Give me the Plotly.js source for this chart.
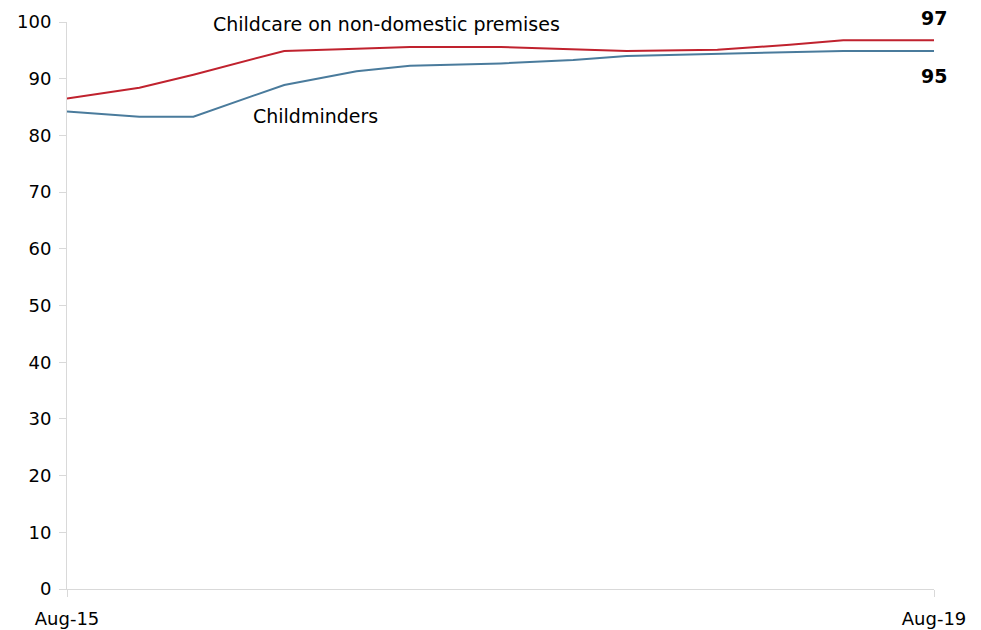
<!DOCTYPE html>
<html>
<head>
<meta charset="utf-8">
<script src="https://cdn.plot.ly/plotly-3.0.1.min.js"></script>
<style>html,body{margin:0;padding:0;background:#fff;}#chart{width:981px;height:630px;}</style>
</head>
<body>
<div id="chart"></div>
<script>
const dates = ['2015-08-01','2015-12-01','2016-03-01','2016-08-01','2016-12-01','2017-03-01','2017-08-01','2017-12-01','2018-03-01','2018-08-01','2018-12-01','2019-03-01','2019-08-01'];
const nonDomestic = [86.5, 88.4, 90.7, 94.9, 95.3, 95.6, 95.6, 95.2, 94.9, 95.1, 96.0, 96.8, 96.8];
const childminders = [84.2, 83.3, 83.3, 88.9, 91.3, 92.3, 92.7, 93.3, 94.0, 94.4, 94.7, 94.9, 94.9];
const xTickVals = ['2015-08-01','2019-08-01'];
const xTickText = ['Aug-15','Aug-19'];
const yTicks = [0,10,20,30,40,50,60,70,80,90,100];
const seriesNames = ['Childcare on non-domestic premises','Childminders'];
const endLabels = ['97','95'];

const font = 'DejaVu Sans, Verdana, sans-serif';
const traces = [
  {x: dates, y: nonDomestic, name: seriesNames[0], mode: 'lines', line: {color: '#C0222E', width: 2}},
  {x: dates, y: childminders, name: seriesNames[1], mode: 'lines', line: {color: '#4A7B9C', width: 2}}
];
const layout = {
  width: 981, height: 630,
  margin: {l: 67, r: 47, t: 22, b: 41},
  paper_bgcolor: '#fff', plot_bgcolor: '#fff',
  showlegend: false,
  font: {family: font, size: 18, color: '#000'},
  xaxis: {
    type: 'date', range: [dates[0], dates[dates.length-1]],
    tickvals: xTickVals, ticktext: xTickText,
    showgrid: false, zeroline: false, showline: true, linecolor: '#d9d9d9', linewidth: 1,
    ticks: 'outside', ticklen: 7, tickcolor: '#d9d9d9', ticklabelstandoff: 6,
    tickfont: {family: font, size: 18, color: '#000'}
  },
  yaxis: {
    range: [0, 100], tickvals: yTicks,
    showgrid: false, zeroline: false, showline: true, linecolor: '#d9d9d9', linewidth: 1,
    ticks: 'outside', ticklen: 7, tickcolor: '#d9d9d9', ticklabelstandoff: 4,
    tickfont: {family: font, size: 18, color: '#000'}
  },
  annotations: [
    {x: '2017-01-20', y: 99.6, xref: 'x', yref: 'y', text: seriesNames[0], showarrow: false, font: {family: font, size: 19, color: '#000'}},
    {x: '2016-09-22', y: 83.4, xref: 'x', yref: 'y', text: seriesNames[1], showarrow: false, font: {family: font, size: 19, color: '#000'}},
    {x: dates[dates.length-1], y: nonDomestic[nonDomestic.length-1], xref: 'x', yref: 'y', text: '<b>' + endLabels[0] + '</b>', showarrow: false, yshift: 22, font: {family: font, size: 19, color: '#000'}},
    {x: dates[dates.length-1], y: childminders[childminders.length-1], xref: 'x', yref: 'y', text: '<b>' + endLabels[1] + '</b>', showarrow: false, yshift: -25, font: {family: font, size: 19, color: '#000'}}
  ]
};
Plotly.newPlot('chart', traces, layout, {displayModeBar: false, staticPlot: true});
</script>
</body>
</html>
